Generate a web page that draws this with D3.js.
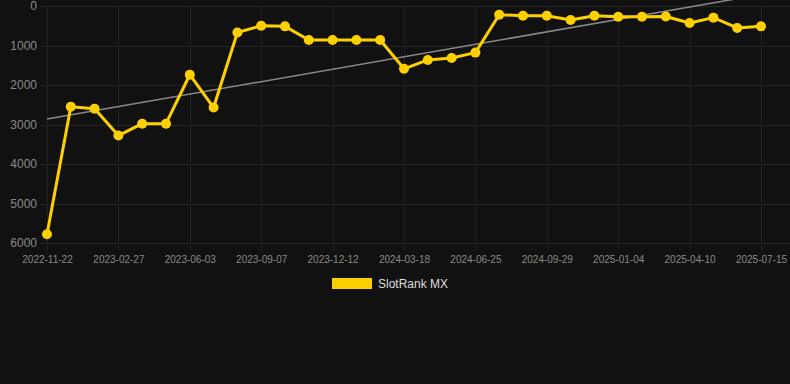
<!DOCTYPE html>
<html lang="en">
<head>
    <meta charset="UTF-8">
    <title>SlotRank MX</title>
    <script src="https://cdnjs.cloudflare.com/ajax/libs/d3/7.8.5/d3.min.js"></script>
    <style>
        html, body { margin: 0; padding: 0; background: #111111; }
        svg { display: block; font-family: "Liberation Sans", Arial, sans-serif; }
    </style>
</head>
<body>
    <div id="chart"></div>
    <script>
        // Dates of each sample (only every third one is labelled on the axis)
        const dates = [
            "2022-11-22", "2022-12-24", "2023-01-25", "2023-02-27", "2023-03-31", "2023-05-02",
            "2023-06-03", "2023-07-05", "2023-08-06", "2023-09-07", "2023-10-09", "2023-11-10",
            "2023-12-12", "2024-01-13", "2024-02-15", "2024-03-18", "2024-04-19", "2024-05-23",
            "2024-06-25", "2024-07-27", "2024-08-28", "2024-09-29", "2024-10-31", "2024-12-02",
            "2025-01-04", "2025-02-05", "2025-03-09", "2025-04-10", "2025-05-12", "2025-06-13",
            "2025-07-15"
        ];
        const rankValues = [
            5780, 2550, 2600, 3280, 2980, 2980, 1740, 2570, 670, 500, 515, 860,
            860, 860, 860, 1590, 1365, 1315, 1180, 220, 245, 245, 355, 245,
            270, 270, 265, 430, 295, 555, 515
        ];
        const trendValues = [2860, -290];
        const yTicks = [0, 1000, 2000, 3000, 4000, 5000, 6000];
        const xTickLabels = dates.filter((d, i) => i % 3 === 0);
        const seriesName = "SlotRank MX";

        const width = 790, height = 384;
        const plot = { left: 40, right: 790, top: 6, bottom: 243 };

        const svg = d3.select("#chart").append("svg")
            .attr("width", width)
            .attr("height", height);

        svg.append("rect")
            .attr("width", width).attr("height", height)
            .attr("fill", "#111111");

        const x = d3.scalePoint()
            .domain(dates)
            .range([47, 761]);

        const y = d3.scaleLinear()
            .domain([0, 6000])
            .range([plot.top, plot.bottom]);

        // grid
        svg.append("g")
            .selectAll("line")
            .data(yTicks)
            .join("line")
            .attr("x1", plot.left).attr("x2", plot.right)
            .attr("y1", d => Math.round(y(d)) + 0.5).attr("y2", d => Math.round(y(d)) + 0.5)
            .attr("stroke", "#252525").attr("stroke-width", 1);

        svg.append("g")
            .selectAll("line")
            .data(xTickLabels)
            .join("line")
            .attr("x1", d => Math.round(x(d)) + 0.5).attr("x2", d => Math.round(x(d)) + 0.5)
            .attr("y1", plot.top).attr("y2", plot.bottom + 8)
            .attr("stroke", "#1f1f1f").attr("stroke-width", 1);

        // y axis
        const yAxis = svg.append("g")
            .attr("transform", `translate(37,0)`)
            .call(d3.axisLeft(y).tickValues(yTicks).tickSize(0).tickPadding(0).tickFormat(d3.format("d")));
        yAxis.select(".domain").remove();
        yAxis.selectAll("text")
            .attr("fill", "#8a8a8a")
            .style("font-size", "12px");

        // x axis
        const xAxis = svg.append("g")
            .attr("transform", `translate(0,${plot.bottom + 13})`)
            .call(d3.axisBottom(x).tickValues(xTickLabels).tickSize(0).tickPadding(0));
        xAxis.select(".domain").remove();
        xAxis.selectAll("text")
            .attr("fill", "#8a8a8a")
            .style("font-size", "10px");

        // trend line
        svg.append("line")
            .attr("x1", x(dates[0])).attr("y1", y(trendValues[0]))
            .attr("x2", x(dates[dates.length - 1])).attr("y2", y(trendValues[1]))
            .attr("stroke", "#888888").attr("stroke-width", 1.5);

        // series
        const data = dates.map((d, i) => ({ date: d, value: rankValues[i] }));
        const line = d3.line()
            .x(d => x(d.date))
            .y(d => y(d.value));

        svg.append("path")
            .datum(data)
            .attr("fill", "none")
            .attr("stroke", "#FFD000")
            .attr("stroke-width", 3)
            .attr("stroke-linejoin", "round")
            .attr("d", line);

        svg.append("g")
            .selectAll("circle")
            .data(data)
            .join("circle")
            .attr("cx", d => x(d.date))
            .attr("cy", d => y(d.value))
            .attr("r", 5)
            .attr("fill", "#FFD000");

        // legend
        const legend = svg.append("g").attr("transform", "translate(332,278)");
        legend.append("rect")
            .attr("width", 40).attr("height", 11)
            .attr("fill", "#FFD000");
        legend.append("text")
            .attr("x", 46).attr("y", 6)
            .attr("dy", "0.35em")
            .attr("fill", "#dddddd")
            .style("font-size", "12px")
            .text(seriesName);
    </script>
</body>
</html>
